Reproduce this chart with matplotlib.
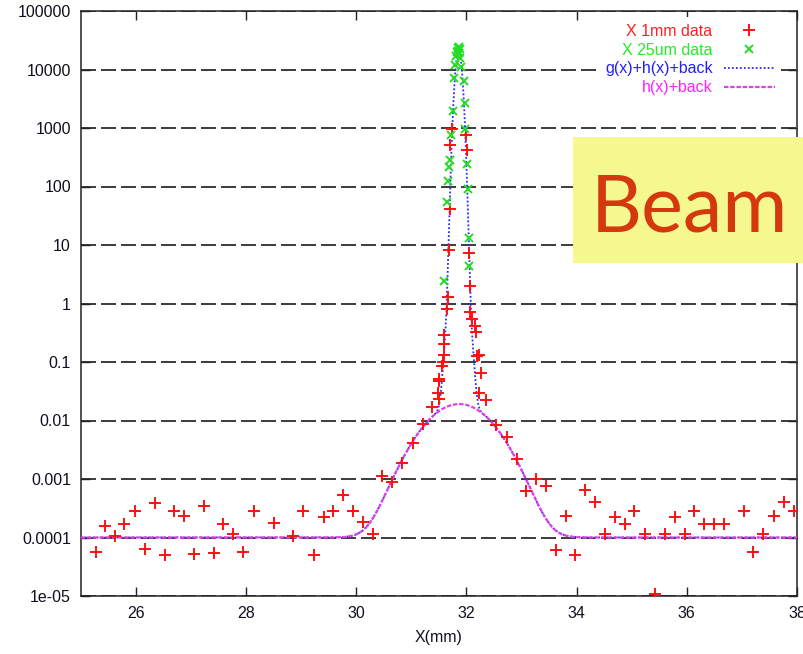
#!/usr/bin/env python3
"""Beam profile scan: 1mm and 25um X scans with g(x)+h(x)+back fit, log scale."""

import numpy as np
import matplotlib
matplotlib.use("Agg")
import matplotlib.pyplot as plt
from matplotlib.patches import Rectangle

# X 1mm scan (position mm, signal)
x1mm = [25.27, 25.45, 25.62, 25.79, 25.98, 26.16, 26.35, 26.53, 26.70, 26.87,
        27.05, 27.24, 27.42, 27.59, 27.76, 27.95, 28.15, 28.50, 28.86, 29.04,
        29.24, 29.41, 29.58, 29.76, 29.94, 30.12, 30.30, 30.47, 30.65, 30.83,
        31.03, 31.21, 31.38, 31.48, 31.51, 31.50, 31.51, 31.56, 31.57, 31.59,
        31.59, 31.60, 31.64, 31.66, 31.68, 31.70, 31.70, 31.74,
        32.00, 32.01, 32.04, 32.06, 32.07, 32.10, 32.16, 32.18, 32.20, 32.22,
        32.27, 32.22, 32.36, 32.53, 32.73, 32.91, 33.09, 33.27, 33.44, 33.62,
        33.80, 33.98, 34.16, 34.33, 34.51, 34.69, 34.87, 35.05, 35.24, 35.42,
        35.60, 35.78, 35.96, 36.13, 36.31, 36.50, 36.68, 37.04, 37.21, 37.39,
        37.58, 37.77, 37.94]
y1mm = [5.6e-5, 1.6e-4, 1.05e-4, 1.67e-4, 2.8e-4, 6.4e-5, 3.9e-4, 5.1e-5, 2.8e-4, 2.3e-4,
        5.2e-5, 3.4e-4, 5.5e-5, 1.67e-4, 1.16e-4, 5.6e-5, 2.8e-4, 1.8e-4, 1.08e-4, 2.8e-4,
        5.1e-5, 2.2e-4, 2.8e-4, 5.3e-4, 2.8e-4, 1.83e-4, 1.13e-4, 1.12e-3, 8.9e-4, 1.85e-3,
        4.2e-3, 8.8e-3, 1.7e-2, 2.9e-2, 2.3e-2, 5.1e-2, 4.7e-2, 8.4e-2, 0.10, 0.134,
        0.20, 0.29, 0.8, 1.3, 8.3, 42, 510, 960,
        760, 420, 7.3, 2.0, 0.71, 0.54, 0.41, 0.32, 0.126, 0.134,
        0.066, 0.030, 0.022, 8.4e-3, 5.2e-3, 2.2e-3, 6.2e-4, 1.0e-3, 7.5e-4, 6.2e-5,
        2.3e-4, 5.1e-5, 6.4e-4, 4.0e-4, 1.16e-4, 2.2e-4, 1.67e-4, 2.8e-4, 1.16e-4, 1.1e-5,
        1.16e-4, 2.2e-4, 1.16e-4, 2.8e-4, 1.67e-4, 1.67e-4, 1.67e-4, 2.8e-4, 5.6e-5, 1.16e-4,
        2.3e-4, 4.0e-4, 2.8e-4]

# X 25um scan around the core
x25um = [31.60, 31.64, 31.67, 31.68, 31.71, 31.72, 31.76, 31.77, 31.79, 31.81,
         31.83, 31.84, 31.85, 31.86, 31.87, 31.88, 31.89, 31.91, 31.95, 31.97,
         31.98, 32.01, 32.03, 32.04, 32.05]
y25um = [2.4, 54, 126, 215, 280, 760, 1950, 7100, 12000, 17000,
         20000, 23000, 21000, 24000, 19000, 22000, 16000, 11000, 6400, 2640,
         980, 245, 91, 13, 4.3]

# fit parameters: g = core gaussian (+ small shoulder), h = halo gaussian
g_amp, g_mu, g_sig = 2.1e4, 31.86, 0.047
s_amp, s_sig = 10.0, 0.09
h_amp, h_mu, h_sig = 0.019, 31.87, 0.49
back = 1e-4

ytick_vals = [1e-5, 1e-4, 1e-3, 1e-2, 1e-1, 1, 10, 100, 1000, 10000, 100000]
ytick_labels = ["1e-05", "0.0001", "0.001", "0.01", "0.1", "1", "10", "100",
                "1000", "10000", "100000"]
xtick_vals = [26, 28, 30, 32, 34, 36, 38]


def gauss(x, a, mu, sig):
    return a * np.exp(-0.5 * ((x - mu) / sig) ** 2)


FONT = ["Liberation Sans", "DejaVu Sans"]
plt.rcParams["font.family"] = FONT
FS = 11.5

W, H = 804, 654
fig = plt.figure(figsize=(W / 100, H / 100), dpi=100)
ax = fig.add_axes([80.7 / W, 1 - 596 / H, (797 - 80.7) / W, (596 - 11) / H])

xs = np.linspace(25, 38, 3000)
hb = gauss(xs, h_amp, h_mu, h_sig) + back
ghb = gauss(xs, g_amp, g_mu, g_sig) + gauss(xs, s_amp, g_mu, s_sig) + hb

ax.plot(x1mm, y1mm, ls="none", marker="+", ms=8, mew=1.4, color="#ff1010",
        label="X 1mm data", zorder=4)
ax.plot(x25um, y25um, ls="none", marker="x", ms=5.5, mew=1.4, color="#22dd22",
        label="X 25um data", zorder=5)
ax.plot(xs, ghb, ls=(0, (1, 1.2)), lw=1.3, color="#2a2aff",
        label="g(x)+h(x)+back", zorder=3)
ax.plot(xs, hb, ls=(0, (2, 0.8)), lw=1.6, color="#e040e8",
        label="h(x)+back", zorder=3)

ax.set_yscale("log")
ax.set_xlim(25, 38)
ax.set_ylim(1e-5, 1e5)
ax.set_yticks(ytick_vals)
ax.set_yticklabels(ytick_labels)
ax.set_xticks(xtick_vals)
ax.set_xticklabels([str(v) for v in xtick_vals])
ax.minorticks_off()
ax.tick_params(direction="in", length=6.5, width=1.0, top=True, right=True,
               labelsize=FS, pad=7, colors="#222222", labelcolor="#10101c")

ax.yaxis.grid(True, which="major", color="#1a1a1a", lw=1.2, ls=(0, (9, 3)))
ax.set_axisbelow(True)
for sp in ax.spines.values():
    sp.set_linewidth(1.1)
    sp.set_color("#222222")

ax.set_xlabel("X(mm)", fontsize=FS, color="#10101c", labelpad=7)

leg = ax.legend(loc="upper right", bbox_to_anchor=(0.978, 0.989), markerfirst=False,
                fontsize=FS, handlelength=3.2, handletextpad=0.7, labelspacing=0.24,
                borderpad=0.4, borderaxespad=0, frameon=True, fancybox=False,
                labelcolor=["#ff2020", "#22ee22", "#2020ff", "#ff20ff"])
leg.get_frame().set_facecolor("white")
leg.get_frame().set_edgecolor("none")
leg.get_frame().set_alpha(1)

# slide overlay
fig.add_artist(Rectangle((573 / W, 1 - 263 / H), (W - 573) / W + 0.01, 126 / H,
                         transform=fig.transFigure, facecolor="#f5f78f",
                         edgecolor="none", zorder=10))
fig.text(591 / W, 1 - 231 / H, "Beam", fontsize=57, family="Lato",
         color="#d4380c", va="baseline", ha="left", zorder=11)

fig.savefig("out.png", dpi=100)
